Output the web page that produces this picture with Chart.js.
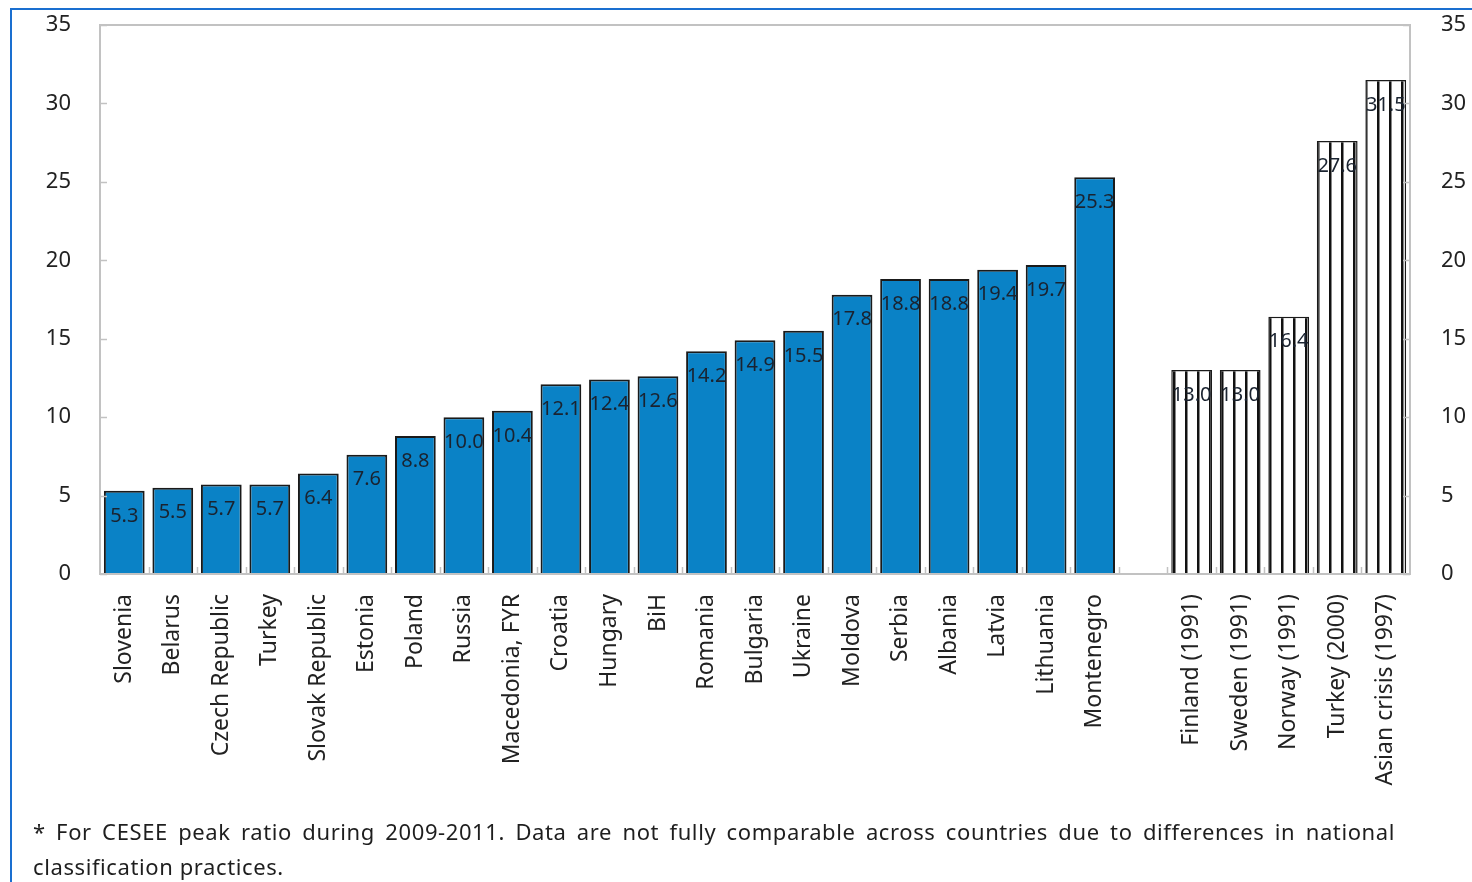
<!DOCTYPE html>
<html>
<head>
<meta charset="utf-8">
<script src="https://cdn.jsdelivr.net/npm/chart.js@4.4.0/dist/chart.umd.min.js"></script>
<style>
    body { margin: 0; background: #fff; width: 1472px; height: 882px; overflow: hidden; position: relative; font-family: "Noto Sans", sans-serif; }
    #chart-box { position: absolute; left: 0; top: 0; width: 1472px; height: 882px; }
    .frame-top { position: absolute; left: 10px; top: 8px; width: 1462px; height: 2px; background: #1a6fd0; }
    .frame-left { position: absolute; left: 10px; top: 8px; width: 2px; height: 874px; background: #1a6fd0; }
    #note { position: absolute; left: 33px; top: 814px; width: 1362px; font-size: 22px; line-height: 35px; color: #1e1e1e; letter-spacing: 0.6px; }
    #note .first { display: block; text-align: justify; text-align-last: justify; }
</style>
</head>
<body>
<div class="frame-top"></div>
<div class="frame-left"></div>
<div id="chart-box"><canvas id="npl-chart"></canvas></div>
<div id="note"><span class="first">* For CESEE peak ratio during 2009-2011. Data are not fully comparable across countries due to differences in national</span>classification practices.</div>

<script>
let categories = ["Slovenia", "Belarus", "Czech Republic", "Turkey", "Slovak Republic", "Estonia", "Poland",
    "Russia", "Macedonia, FYR", "Croatia", "Hungary", "BiH", "Romania", "Bulgaria", "Ukraine", "Moldova",
    "Serbia", "Albania", "Latvia", "Lithuania", "Montenegro", "",
    "Finland (1991)", "Sweden (1991)", "Norway (1991)", "Turkey (2000)", "Asian crisis (1997)"];

let ceseeValues = [5.3, 5.5, 5.7, 5.7, 6.4, 7.6, 8.8, 10.0, 10.4, 12.1, 12.4, 12.6, 14.2, 14.9, 15.5, 17.8,
    18.8, 18.8, 19.4, 19.7, 25.3, null, null, null, null, null, null];

let pastCrisisValues = [null, null, null, null, null, null, null, null, null, null, null, null, null, null,
    null, null, null, null, null, null, null, null, 13.0, 13.0, 16.4, 27.6, 31.5];

let yTicks = [0, 5, 10, 15, 20, 25, 30, 35];


let chartEl = document.getElementById('npl-chart');
let ctx = chartEl.getContext('2d');

// vertical stripes for the historical crisis bars
let stripeCanvas = document.createElement('canvas');
stripeCanvas.width = 12;
stripeCanvas.height = 4;
let sctx = stripeCanvas.getContext('2d');
sctx.fillStyle = "#ffffff";
sctx.fillRect(0, 0, 12, 4);
sctx.fillStyle = "#111111";
sctx.fillRect(9, 0, 2.5, 4);
let stripes = ctx.createPattern(stripeCanvas, 'repeat');

let fontFamily = '"Noto Sans", sans-serif';
let gridGrey = "#c2c2c2";

// plot frame, small inward ticks, value labels inside bars
let framePlugin = {
    id: 'frame',
    afterDatasetsDraw(chart) {
        let c = chart.ctx;
        let area = chart.chartArea;
        let yScale = chart.scales.y;
        let xScale = chart.scales.x;

        c.save();
        c.strokeStyle = gridGrey;
        c.lineWidth = 2;
        c.strokeRect(area.left, area.top, area.right - area.left, area.bottom - area.top);

        c.lineWidth = 1.5;
        yTicks.forEach(function (t) {
            let py = Math.round(yScale.getPixelForValue(t)) + 0.5;
            c.beginPath();
            c.moveTo(area.left, py);
            c.lineTo(area.left + 7, py);
            c.moveTo(area.right - 7, py);
            c.lineTo(area.right, py);
            c.stroke();
        });

        for (let i = 1; i < categories.length; i++) {
            let px = Math.round((xScale.getPixelForValue(i - 1) + xScale.getPixelForValue(i)) / 2) + 0.5;
            c.beginPath();
            c.moveTo(px, area.bottom);
            c.lineTo(px, area.bottom - 7);
            c.stroke();
        }

        c.font = '20px ' + fontFamily;
        c.fillStyle = "#1a2330";
        c.textAlign = 'center';
        c.textBaseline = 'middle';
        chart.data.datasets.forEach(function (ds, di) {
            let meta = chart.getDatasetMeta(di);
            meta.data.forEach(function (bar, i) {
                let v = ds.data[i];
                if (v === null) return;
                c.fillText(v.toFixed(1), bar.x, bar.y + 25);
            });
        });
        c.restore();
    }
};

// the axis labels may hang over the plot's top edge
function fixLeftAxis(scale) {
    scale.width = 100;
    scale.paddingTop = 0;
}
function fixRightAxis(scale) {
    scale.width = 1472 - 1410;
    scale.paddingTop = 0;
}

let config = {
    type: "bar",
    data: {
        labels: categories,
        datasets: [
            {
                data: ceseeValues,
                backgroundColor: "#0a82c6",
                borderColor: "#1a1a1a",
                borderWidth: 2,
                grouped: false,
                barPercentage: 0.84,
                categoryPercentage: 1
            },
            {
                data: pastCrisisValues,
                backgroundColor: stripes,
                borderColor: "#1a1a1a",
                borderWidth: 1.5,
                grouped: false,
                barPercentage: 0.84,
                categoryPercentage: 1
            }
        ]
    },
    options: {
        responsive: false,
        animation: false,
        devicePixelRatio: 1,
        layout: {
            padding: { top: 25, left: 0, right: 0, bottom: 0 }
        },
        plugins: {
            legend: { display: false },
            tooltip: { enabled: false }
        },
        scales: {
            x: {
                grid: { display: false },
                border: { display: false },
                ticks: {
                    autoSkip: false,
                    minRotation: 90,
                    maxRotation: 90,
                    padding: 12,
                    color: "#222222",
                    font: { family: fontFamily, size: 23 }
                },
                afterFit(scale) { scale.height = 882 - 574; }
            },
            y: {
                position: 'left',
                min: 0,
                max: 35,
                grid: { display: false },
                border: { display: false },
                ticks: {
                    stepSize: 5,
                    padding: 21,
                    color: "#222222",
                    font: { family: fontFamily, size: 22 }
                },
                afterFit: fixLeftAxis
            },
            y2: {
                position: 'right',
                min: 0,
                max: 35,
                grid: { display: false },
                border: { display: false },
                ticks: {
                    stepSize: 5,
                    padding: 23,
                    color: "#222222",
                    font: { family: fontFamily, size: 22 }
                },
                afterFit: fixRightAxis
            }
        }
    },
    plugins: [framePlugin]
};

chartEl.width = 1472;
chartEl.height = 882;
let nplChart = new Chart(chartEl, config);
</script>
</body>
</html>
